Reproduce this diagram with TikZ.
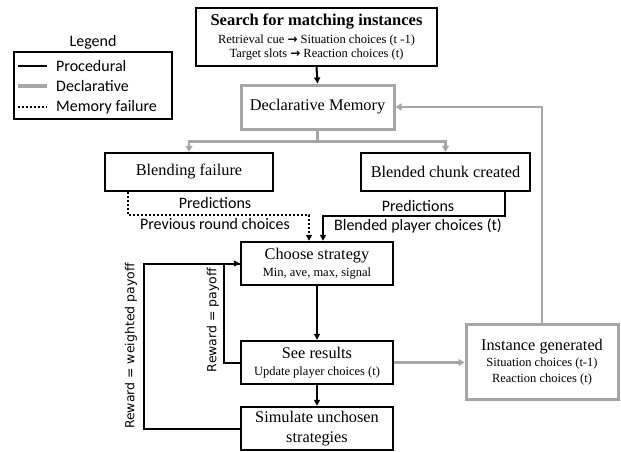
\documentclass[tikz,border=0pt]{standalone}
\usepackage{fontspec}
\setmainfont{Liberation Serif}
\newfontfamily\calib{Carlito}
\newfontfamily\dejav{DejaVu Sans}
\usetikzlibrary{arrows.meta}
\definecolor{lgray}{RGB}{166,166,166}
\tikzset{
  proc/.style={line width=2pt, black},
  decl/.style={line width=2.8pt, lgray},
  fail/.style={line width=2pt, black, dotted},
  tip/.style={-{Triangle[length=6pt,width=6pt]}},
  gtip/.style={-{Triangle[length=6pt,width=7pt]}},
  box/.style={draw=black, line width=2.4pt, align=center, inner sep=2pt, fill=white,
    font=\fontsize{12.5}{14}\selectfont},
  gbox/.style={draw=lgray, line width=3pt, align=center, inner sep=2pt, fill=white,
    font=\fontsize{12.5}{14}\selectfont},
  ttl/.style={font=\fontsize{16.3}{18}\selectfont},
  lbl/.style={font=\calib\fontsize{16}{18}\selectfont, inner sep=0pt},
  rlbl/.style={font=\dejav\fontsize{12.5}{14}\selectfont, inner sep=0pt, rotate=90},
}
\newcommand{\bigt}{\fontsize{16.3}{18}\selectfont}
\newcommand{\arr}{{\dejav\bfseries\fontsize{12}{12}\selectfont →}}
\begin{document}
\begin{tikzpicture}[x=1pt,y=-1pt]
\useasboundingbox (0,0) rectangle (621,452);
% boxes
\node[box, minimum width=241pt, minimum height=58pt] (search) at (316.5,37)
  {{\bfseries\fontsize{16.5}{18}\selectfont Search for matching instances}\\[4pt]
   Retrieval cue \arr{} Situation choices (t -1)\\
   Target slots \arr{} Reaction choices (t)};
\node[gbox, ttl, minimum width=153pt, minimum height=44pt] (dm) at (317.5,107) {Declarative Memory};
\node[box, ttl, minimum width=168pt, minimum height=38pt] (bf) at (189,172) {Blending failure};
\node[box, ttl, minimum width=169pt, minimum height=38pt] (bc) at (445.5,172) {Blended chunk created};
\node[box, minimum width=152pt, minimum height=43pt] (choose) at (317,263.5)
  {{\bigt Choose strategy}\\[3pt]Min, ave, max, signal};
\node[box, minimum width=152pt, minimum height=43pt] (see) at (317,362.5)
  {{\bigt See results}\\[3pt]Update player choices (t)};
\node[box, font=\fontsize{16.3}{20}\selectfont, minimum width=152pt, minimum height=43pt] (sim) at (317,428.5)
  {Simulate unchosen\\strategies};
\node[gbox, minimum width=152pt, minimum height=75pt] (inst) at (542,362)
  {{\bigt Instance generated}\\[2pt]Situation choices (t-1)\\[2pt]Reaction choices (t)};
% legend
\node[font=\calib\fontsize{16}{18}\selectfont, inner sep=0pt] (legt) at (93,42) {Legend};
\node[draw=black, line width=2.4pt, minimum width=158pt, minimum height=67pt, inner sep=0pt] (leg) at (93,85.5) {};
\coordinate (l1a) at (18,66); \coordinate (l1b) at (47,66);
\coordinate (l2a) at (18,86); \coordinate (l2b) at (47,86);
\coordinate (l3a) at (18,107); \coordinate (l3b) at (47,107);
\draw[proc] (l1a) -- (l1b);
\draw[decl, line width=3.5pt] (l2a) -- (l2b);
\draw[fail] (l3a) -- (l3b);
\node[lbl, anchor=west] (lp) at (56,66) {Procedural};
\node[lbl, anchor=west] (ld) at (56,86) {Declarative};
\node[lbl, anchor=west] (lm) at (56,107) {Memory failure};
% connectors
\draw[proc, tip] (search.south) -- (dm.north);
\draw[decl] (dm.south) -- ++(0,11) coordinate (split);
\draw[decl, gtip] (split) -| (bf.north);
\draw[decl, gtip] (split) -| (bc.north);
\draw[fail, tip] ([xshift=-61pt]bf.south) -- ++(0,23) -| ([xshift=-8pt]choose.north);
\draw[proc, tip] ([xshift=59.5pt]bc.south) -- ++(0,24) -| ([xshift=6pt]choose.north);
\draw[proc, tip] (choose.south) -- (see.north);
\draw[proc, tip] (see.south) -- (sim.north);
\draw[decl, gtip] (see.east) -- (see.east -| inst.west);
\draw[decl, gtip] (inst.north) |- (dm.east);
\draw[proc, tip] (sim.west) -- ++(-96,0) |- (choose.west);
\draw[proc] (see.west) -- ++(-16,0) |- (choose.west);
% labels
\node[lbl] (p1) at (215,203) {Predictions};
\node[lbl] (p2) at (215,224) {Previous round choices};
\node[lbl] (p3) at (418,206) {Predictions};
\node[lbl] (p4) at (418,226) {Blended player choices (t)};
\node[rlbl] (r1) at (131,346) {Reward = weighted payoff};
\node[rlbl] (r2) at (213,320) {Reward = payoff};
\end{tikzpicture}
\end{document}
